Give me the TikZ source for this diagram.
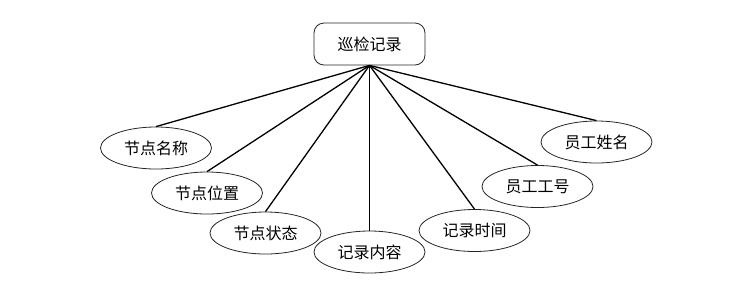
\documentclass[tikz,border=0pt]{standalone}
\usepackage{fontspec}
\newfontfamily\cjk{Noto Sans CJK SC}
\usetikzlibrary{shapes.geometric}
\begin{document}
\begin{tikzpicture}[x=1pt,y=-1pt,
  attr/.style={draw=black!85,line width=0.8pt,ellipse,minimum width=111pt,minimum height=42pt,inner sep=0pt,font=\cjk\fontsize{16}{18}\selectfont},
  ent/.style={draw=black!85,line width=0.8pt,rectangle,rounded corners=10pt,minimum width=111pt,minimum height=42pt,inner sep=0pt,font=\cjk\fontsize{16}{18}\selectfont},
  link/.style={line width=1.3pt}]
\useasboundingbox (0,0) rectangle (746,290);
\node[ent] (root) at (369.5,44) {巡检记录};
\node[attr] (a1) at (156,148) {节点名称};
\node[attr] (a2) at (207,193) {节点位置};
\node[attr] (a3) at (265.5,233) {节点状态};
\node[attr] (a4) at (369.5,252) {记录内容};
\node[attr] (a5) at (474.5,230.5) {记录时间};
\node[attr] (a6) at (537.5,186.5) {员工工号};
\node[attr] (a7) at (596.5,142) {员工姓名};
\foreach \n in {a1,a2,a3,a4,a5,a6,a7}
  \draw[link] (root.south) -- (\n.north);
\end{tikzpicture}
\end{document}
